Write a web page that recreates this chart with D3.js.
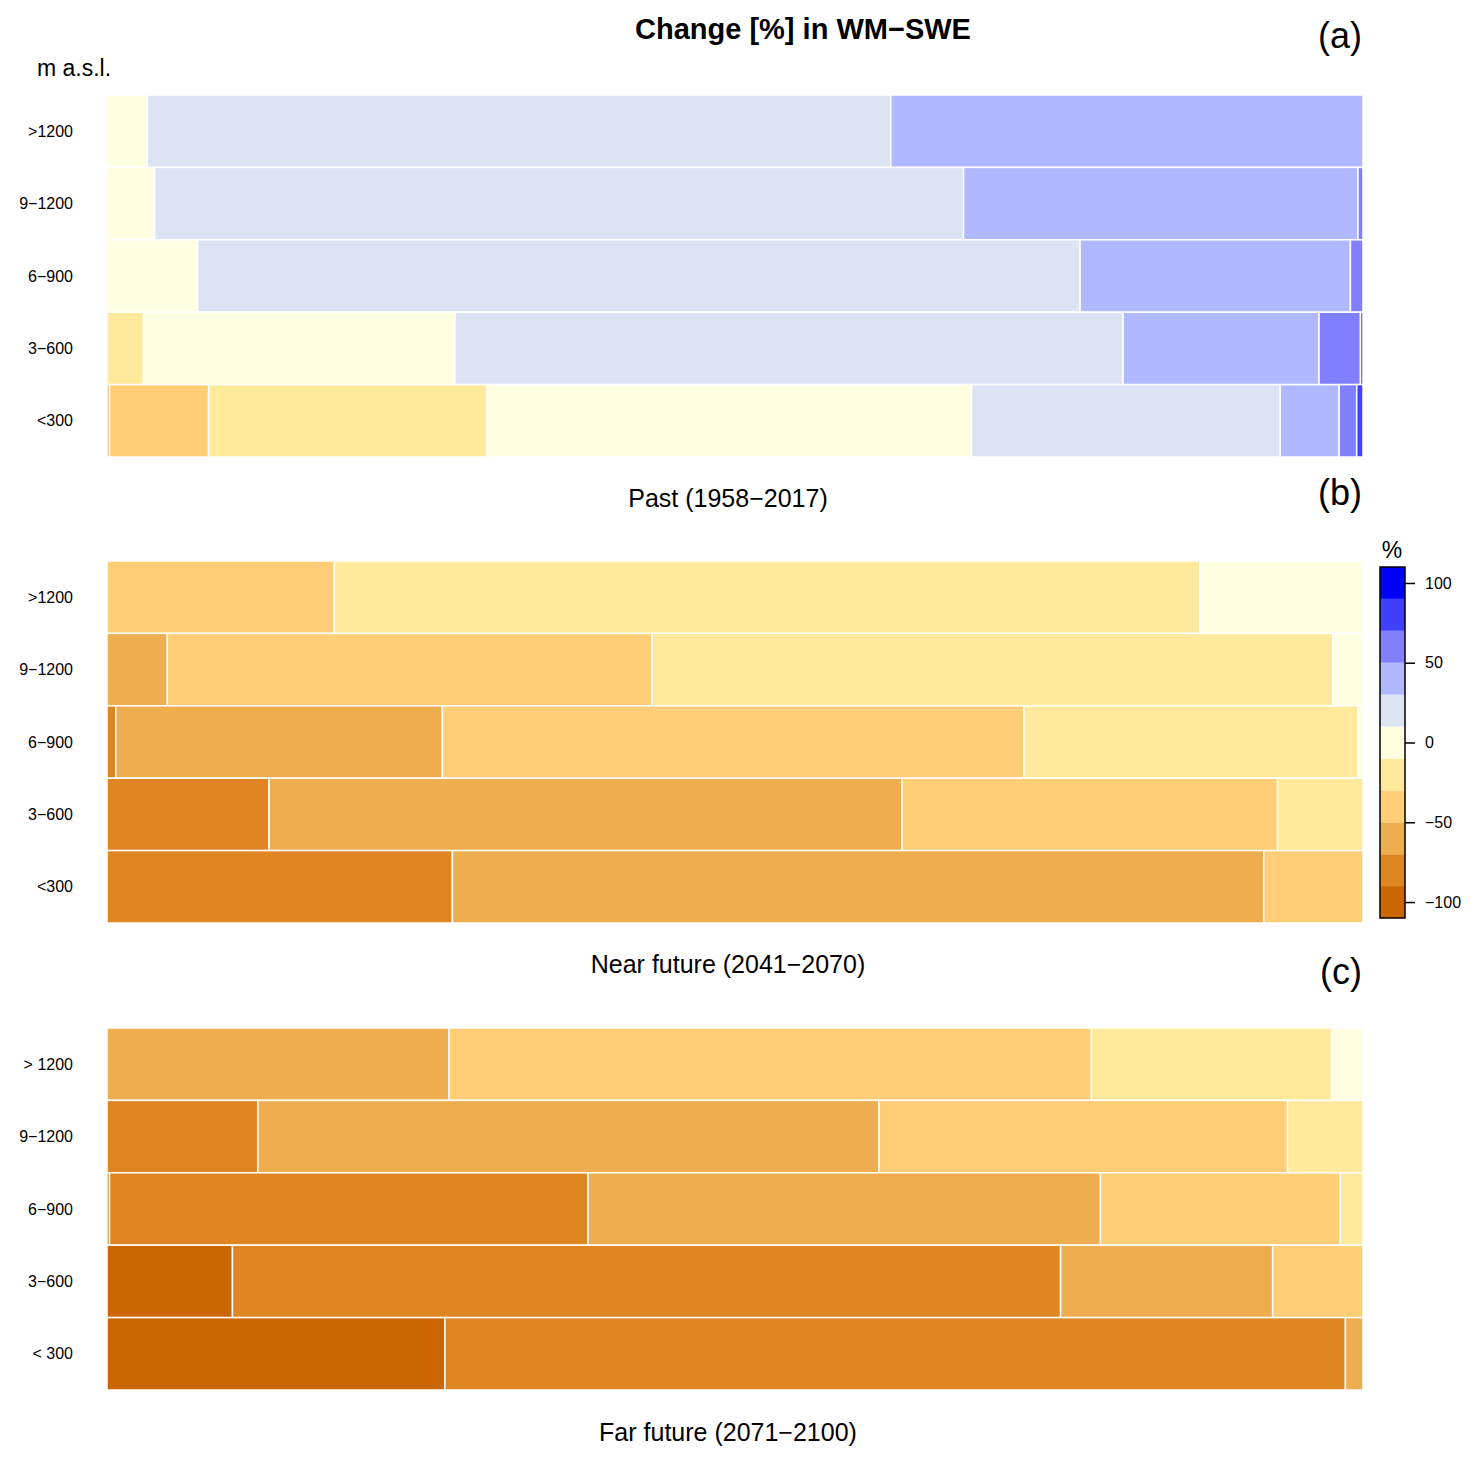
<!DOCTYPE html>
<html lang="en">
<head>
  <meta charset="UTF-8">
  <title>Change [%] in WM-SWE</title>
  <script src="https://d3js.org/d3.v7.min.js"></script>
  <style>
    body { margin: 0; background: #fff; font-family: "Liberation Sans", Arial, sans-serif; }
    text { fill: #000; }
  </style>
</head>
<body>
  <svg id="chart" width="1480" height="1465"></svg>
  <script>
    // class breaks (%), lowest class first
    const breaks = [-110, -90, -70, -50, -30, -10, 10, 30, 50, 70, 90, 110];
    const classColors = ["#CC6600", "#DF8522", "#EEAD4F", "#FFCE76", "#FFE99A", "#FFFEE0",
                         "#DCE4F4", "#B0B8FF", "#8080FF", "#4040FF", "#0000FF"];
    const colorTicks = [-100, -50, 0, 50, 100];

    const rowsAB = [">1200", "9\u22121200", "6\u2212900", "3\u2212600", "<300"];
    const rowsC = ["> 1200", "9\u22121200", "6\u2212900", "3\u2212600", "< 300"];

    // share of area [%] in each class, per elevation band (classes ordered as classColors)
    const past = [
      [0, 0, 0, 0, 0, 3.2, 59.2, 37.6, 0, 0, 0],
      [0, 0, 0, 0, 0, 3.8, 64.4, 31.4, 0.4, 0, 0],
      [0, 0, 0, 0, 0, 7.2, 70.2, 21.5, 1.0, 0, 0],
      [0, 0, 0, 0, 2.9, 24.8, 53.2, 15.6, 3.3, 0.2, 0],
      [0, 0, 0.2, 7.9, 22.2, 38.6, 24.6, 4.7, 1.4, 0.5, 0]
    ];
    const nearFuture = [
      [0, 0, 0, 18.1, 68.9, 13.0, 0, 0, 0, 0, 0],
      [0, 0, 4.8, 38.6, 54.2, 2.4, 0, 0, 0, 0, 0],
      [0, 0.7, 26.0, 46.3, 26.6, 0.4, 0, 0, 0, 0, 0],
      [0, 12.9, 50.4, 29.9, 6.8, 0, 0, 0, 0, 0, 0],
      [0, 27.5, 64.6, 7.9, 0, 0, 0, 0, 0, 0, 0]
    ];
    const farFuture = [
      [0, 0, 27.2, 51.1, 19.1, 2.5, 0, 0, 0, 0, 0],
      [0, 12.0, 49.4, 32.5, 6.0, 0, 0, 0, 0, 0, 0],
      [0.2, 38.1, 40.8, 19.1, 1.8, 0, 0, 0, 0, 0, 0],
      [10.0, 66.0, 16.9, 7.2, 0, 0, 0, 0, 0, 0, 0],
      [26.9, 71.7, 1.4, 0, 0, 0, 0, 0, 0, 0, 0]
    ];

    const panels = [
      { data: past, rows: rowsAB, top: 95, tag: "(a)", tagY: 48, sub: "Past (1958\u22122017)", subY: 507 },
      { data: nearFuture, rows: rowsAB, top: 561, tag: "(b)", tagY: 505, sub: "Near future (2041\u22122070)", subY: 973 },
      { data: farFuture, rows: rowsC, top: 1028, tag: "(c)", tagY: 984, sub: "Far future (2071\u22122100)", subY: 1441 }
    ];

    const svg = d3.select("#chart");
    const left = 107, right = 1363, panelH = 362;
    const x = d3.scaleLinear().domain([0, 1]).range([left, right]);

    svg.append("text")
      .attr("x", 803).attr("y", 39)
      .attr("text-anchor", "middle")
      .style("font-size", "29px").style("font-weight", "bold")
      .text("Change [%] in WM\u2212SWE");

    svg.append("text")
      .attr("x", 37).attr("y", 76)
      .style("font-size", "23px")
      .text("m a.s.l.");

    panels.forEach(p => {
      const y = d3.scaleBand().domain(p.rows).range([p.top, p.top + panelH]);
      const g = svg.append("g");

      p.data.forEach((shares, i) => {
        const total = d3.sum(shares);
        let acc = 0;
        const segs = [];
        shares.forEach((s, k) => {
          if (s > 0) segs.push({ x0: acc / total, x1: (acc + s) / total, k });
          acc += s;
        });
        g.selectAll(null)
          .data(segs)
          .enter().append("rect")
          .attr("x", d => x(d.x0))
          .attr("y", y(p.rows[i]))
          .attr("width", d => x(d.x1) - x(d.x0))
          .attr("height", y.bandwidth())
          .attr("fill", d => classColors[d.k])
          .attr("stroke", "#fff")
          .attr("stroke-width", 1.5);
      });

      g.selectAll(null)
        .data(p.rows)
        .enter().append("text")
        .attr("x", 73)
        .attr("y", d => y(d) + y.bandwidth() / 2)
        .attr("dy", "0.35em")
        .attr("text-anchor", "end")
        .style("font-size", "16px")
        .text(d => d);

      svg.append("text")
        .attr("x", 1362).attr("y", p.tagY)
        .attr("text-anchor", "end")
        .style("font-size", "36px")
        .text(p.tag);

      svg.append("text")
        .attr("x", 728).attr("y", p.subY)
        .attr("text-anchor", "middle")
        .style("font-size", "25px")
        .text(p.sub);
    });

    // colour key
    const cy = d3.scaleLinear().domain([-110, 110]).range([918, 567]);
    const key = svg.append("g");
    key.selectAll("rect")
      .data(classColors)
      .enter().append("rect")
      .attr("x", 1380)
      .attr("y", (d, i) => cy(breaks[i + 1]))
      .attr("width", 25)
      .attr("height", (d, i) => cy(breaks[i]) - cy(breaks[i + 1]))
      .attr("fill", d => d);
    key.append("rect")
      .attr("x", 1380).attr("y", cy(110))
      .attr("width", 25).attr("height", cy(-110) - cy(110))
      .attr("fill", "none").attr("stroke", "#000").attr("stroke-width", 1.5);
    key.append("g")
      .attr("transform", "translate(1405,0)")
      .call(d3.axisRight(cy).tickValues(colorTicks).tickSize(10).tickPadding(10)
        .tickFormat(d => d < 0 ? "\u2212" + Math.abs(d) : d))
      .call(a => a.select(".domain").remove())
      .call(a => a.selectAll("line").attr("stroke", "#000").attr("stroke-width", 1.5))
      .call(a => a.selectAll("text").style("font-size", "16px")
        .style("font-family", "'Liberation Sans', Arial, sans-serif"));
    key.append("text")
      .attr("x", 1392).attr("y", 558)
      .attr("text-anchor", "middle")
      .style("font-size", "23px")
      .text("%");
  </script>
</body>
</html>
